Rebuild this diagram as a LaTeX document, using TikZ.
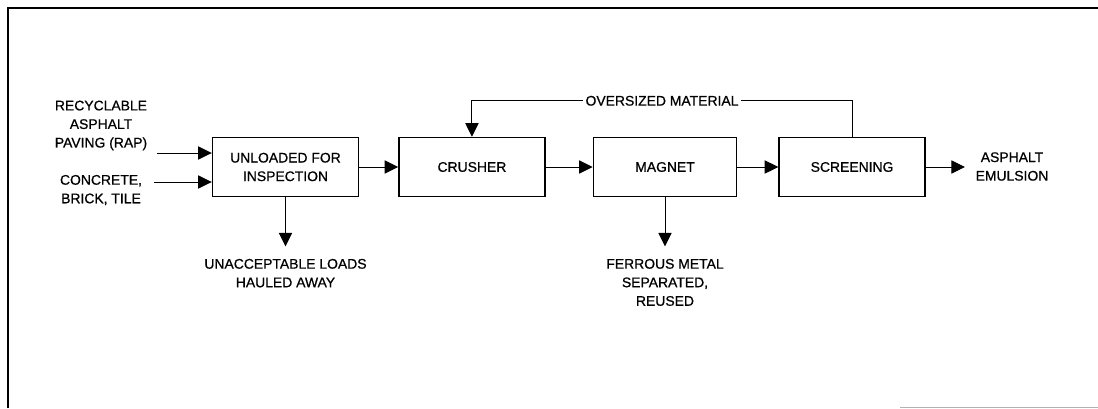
\documentclass[tikz,border=0pt]{standalone}
\usepackage{fontspec}
\setmainfont{Liberation Sans}
\newfontfamily\diagfont{Liberation Sans}[FakeBold=0.7]
\usetikzlibrary{arrows.meta,positioning}
\tikzset{
  pbox/.style={rectangle,draw=black,line width=1pt,minimum width=3.65cm,
               minimum height=1.475cm,align=center,inner sep=2pt,
               font=\diagfont\fontsize{9.9}{13.2}\selectfont},
  lbl/.style={align=center,inner sep=1pt,font=\diagfont\fontsize{9.9}{13.2}\selectfont},
  arr/.style={-{Triangle[length=0.34cm,width=0.33cm]},line width=0.7pt},
}

\begin{document}
\begin{tikzpicture}[x=0.025cm,y=-0.025cm]
    \useasboundingbox (0,0) rectangle (1098,408);

    % frame
    \draw[line width=1.8pt] (8,408) -- (8,8) -- (1098,8);
    \draw[gray!60,line width=0.7pt] (900,407) -- (1098,407);

    % process boxes
    \node[pbox] (unload) at (285.5,167) {UNLOADED FOR\\INSPECTION};
    \node[pbox, right=0.975cm of unload] (crusher) {CRUSHER};
    \node[pbox, minimum width=3.58cm, right=1.175cm of crusher] (magnet) {MAGNET};
    \node[pbox, right=1.025cm of magnet] (screen) {SCREENING};

    % inputs
    \node[lbl] (rap) at (101,125.5) {RECYCLABLE\\ASPHALT\\PAVING (RAP)};
    \node[lbl] (conc) at (101,190) {CONCRETE,\\BRICK, TILE};
    \coordinate (rapin) at (157,153);
    \coordinate (concin) at (154,182);

    % outputs
    \node[lbl] (emul) at (1012,166.5) {ASPHALT\\EMULSION};
    \coordinate (out) at (965,167);
    \node[lbl, below=1.5cm of unload] (unacc) {UNACCEPTABLE LOADS\\HAULED AWAY};
    \node[lbl, below=1.5cm of magnet] (ferrous) {FERROUS METAL\\SEPARATED,\\REUSED};

    % connectors
    \draw[arr] (rapin) -- (rapin -| unload.west);
    \draw[arr] (concin) -- (concin -| unload.west);
    \draw[arr] (unload) -- (crusher);
    \draw[arr] (crusher) -- (magnet);
    \draw[arr] (magnet) -- (screen);
    \draw[arr] (screen) -- (out);
    \draw[arr, shorten >=0.27cm] (unload) -- (unacc);
    \draw[arr, shorten >=0.27cm] (magnet) -- (ferrous);

    % oversized material back to the crusher
    \draw[arr] (screen.north) -- ++(0,-36) -| (crusher.north)
        node[lbl, pos=0.25, fill=white, inner sep=1.5pt] {OVERSIZED MATERIAL};
\end{tikzpicture}
\end{document}
